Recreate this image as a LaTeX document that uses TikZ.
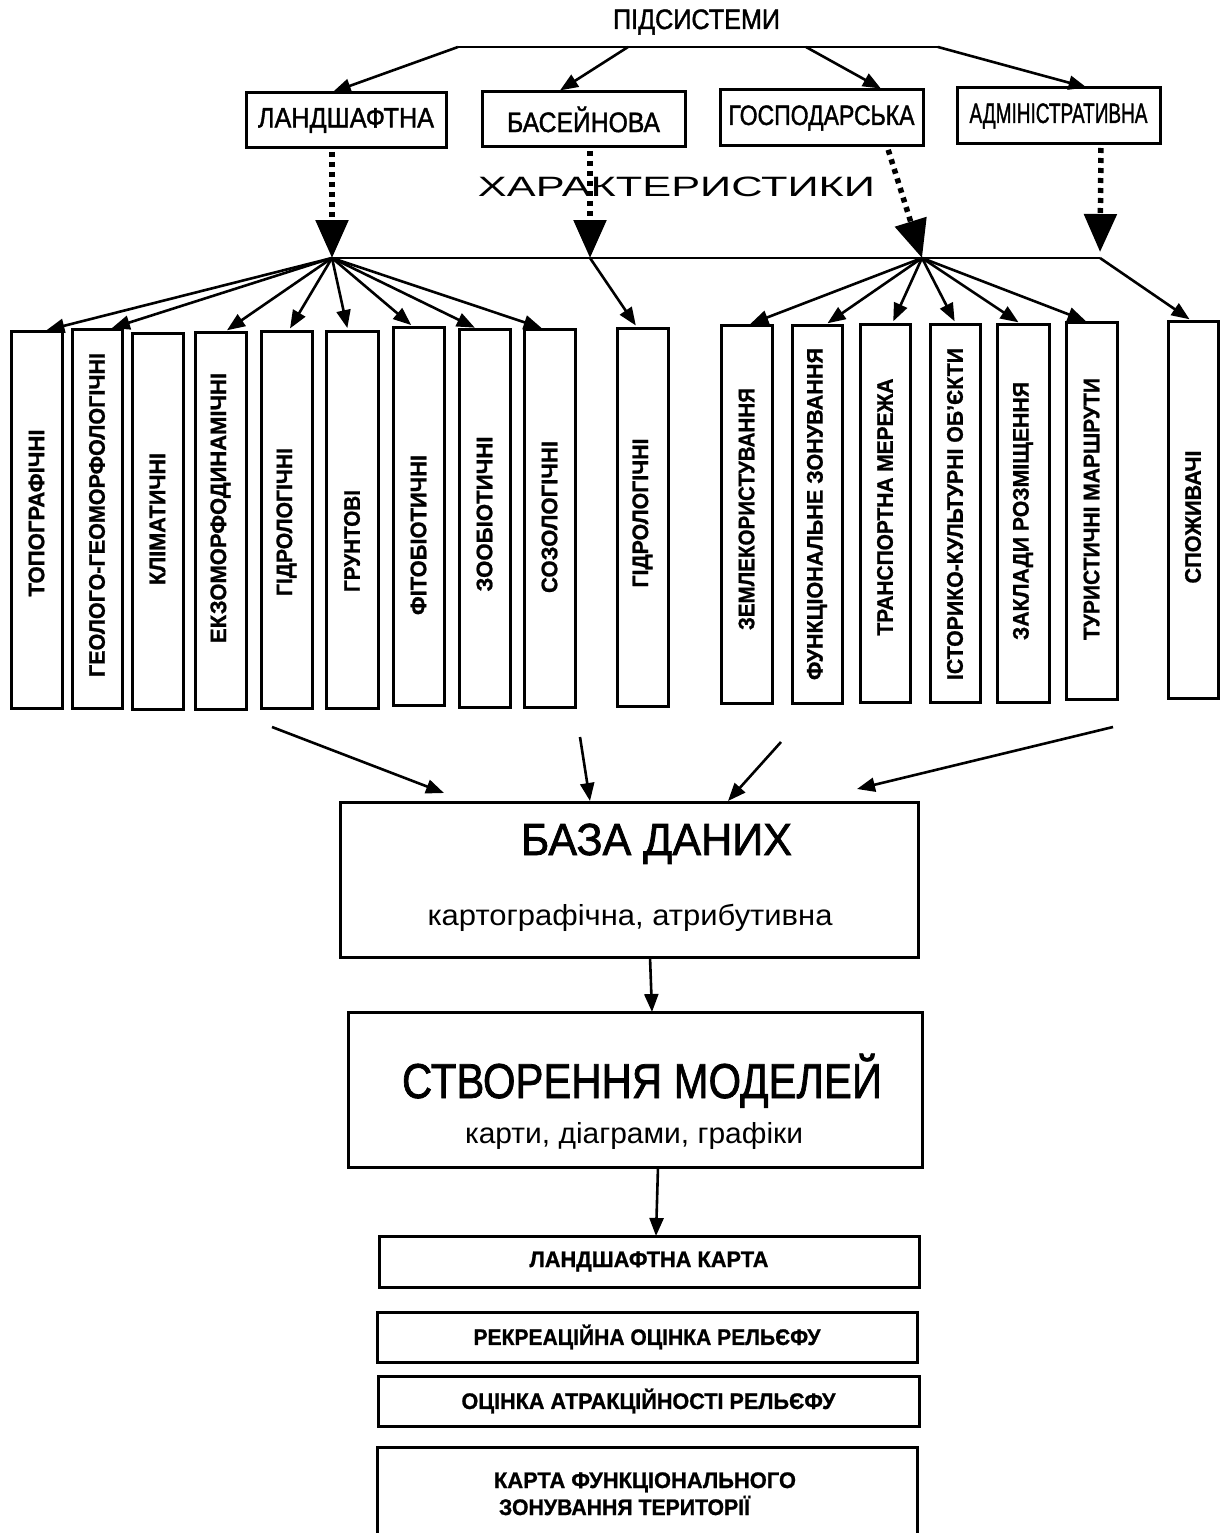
\documentclass[tikz,border=0pt]{standalone}
\usepackage{fontspec}
\setmainfont{Liberation Sans}
\newfontfamily\medf{Liberation Sans}[FakeBold=1.6]
\newfontfamily\heavyf{Liberation Sans}[BoldFeatures={FakeBold=1.0}]
\usepackage{graphicx}
\usetikzlibrary{arrows.meta,calc}
\tikzset{
  box/.style={draw, line width=3pt, inner sep=0pt, outer sep=0pt},
  conn/.style={line width=2.6pt, -{Triangle[length=18pt,width=14pt]}},
  dotarr/.style={line width=5.5pt, dash pattern=on 5pt off 5pt, -{Triangle[length=38pt,width=32pt]}},
  lbl/.style={inner sep=0pt, outer sep=0pt},
  upfont/.style={font=\fontsize{28}{30}\medf},
  bfont/.style={font=\fontsize{22.5}{24}\heavyf\bfseries},
}
\newcommand\fitw[2]{\resizebox{#1pt}{\height}{#2}}
\newcommand\vbx[8]{%
  \node[box, minimum width={(#3-#2)*1pt}, minimum height={(#5-#4)*1pt}] (#1) at ({(#2+#3)/2},{(#4+#5)/2}) {};
  \node[lbl, rotate=90, bfont] (#1t) at ({(#2+#3)/2},#6) {\fitw{#7}{#8}};
}
\begin{document}
\begin{tikzpicture}[x=1pt,y=-1pt]
\useasboundingbox[fill=white] (0,0) rectangle (1220,1533);

% title
\node[lbl, upfont] (sub) at (696.5,22) {\fitw{167}{ПІДСИСТЕМИ}};

% subsystem boxes
\node[box, upfont, minimum width=200pt, minimum height=55pt] (land) at (346,120.5) {\fitw{176}{ЛАНДШАФТНА}};
\node[box, upfont, minimum width=203pt, minimum height=55pt] (bas) at (583.5,119.5) {\fitw{153}{БАСЕЙНОВА}};
\node[box, upfont, minimum width=203pt, minimum height=56pt] (gosp) at (821.5,118) {\fitw{186}{ГОСПОДАРСЬКА}};
\node[box, upfont, minimum width=203pt, minimum height=56pt] (adm) at (1058.5,116) {\fitw{178}{АДМІНІСТРАТИВНА}};

\coordinate (t1) at (458,47);
\coordinate (t2) at (628,47);
\coordinate (t3) at (806,47);
\coordinate (t4) at (938,47);
\draw[line width=2.6pt] (t1) -- (t4);
\draw[conn, shorten >=3pt] (t1) -- ([xshift=-16pt]land.north);
\draw[conn, shorten >=3pt] (t2) -- ([xshift=-26pt]bas.north);
\draw[conn, shorten >=3pt] (t3) -- ([xshift=62pt]gosp.north);
\draw[conn, shorten >=2pt] (t4) -- ([xshift=30pt]adm.north);

% characteristics label
\node[lbl, font=\fontsize{28}{30}\selectfont] (char) at (676.5,187) {\fitw{397}{ХАРАКТЕРИСТИКИ}};

% hubs
\coordinate (hL) at (332,258);
\coordinate (hB) at (590,258);
\coordinate (hG) at (922,258);
\coordinate (hA) at (1100,258);
\draw[line width=2.5pt] (hL) -- (hA);

\draw[dotarr, shorten <=4pt] ([xshift=-14pt]land.south) -- (hL);
\draw[dotarr, shorten <=4pt] ([xshift=6.5pt]bas.south) -- (hB);
\draw[dotarr, shorten <=4pt] ([xshift=65.5pt]gosp.south) -- (hG);
\draw[dotarr, shorten <=4pt, shorten >=6pt] ([xshift=42.5pt]adm.south) -- (hA);

% vertical boxes, landscape group
\vbx{topo}{11}{62}{331}{708}{513}{167}{ТОПОГРАФІЧНІ}
\vbx{geol}{72}{122}{329}{708}{515}{324}{ГЕОЛОГО-ГЕОМОРФОЛОГІЧНІ}
\vbx{klim}{132}{183}{333}{709}{519}{132}{КЛІМАТИЧНІ}
\vbx{ekzo}{195}{246}{332}{709}{508}{270}{ЕКЗОМОРФОДИНАМІЧНІ}
\vbx{hidr}{261}{312}{331}{708}{522}{148}{ГІДРОЛОГІЧНІ}
\vbx{grun}{326}{378}{331}{708}{541}{102}{ГРУНТОВІ}
\vbx{fito}{393}{444}{327}{705}{535}{160}{ФІТОБІОТИЧНІ}
\vbx{zoo}{459}{510}{329}{707}{514}{155}{ЗООБІОТИЧНІ}
\vbx{soz}{524}{575}{329}{707}{517}{152}{СОЗОЛОГІЧНІ}
% basin
\vbx{hidb}{617}{668}{328}{706}{513}{149}{ГІДРОЛОГІЧНІ}
% economic
\vbx{zeml}{721}{772}{325}{703}{509}{242}{ЗЕМЛЕКОРИСТУВАННЯ}
\vbx{funk}{792}{842}{325}{703}{514}{332}{ФУНКЦІОНАЛЬНЕ ЗОНУВАННЯ}
\vbx{tran}{860}{910}{324}{702}{507}{257}{ТРАНСПОРТНА МЕРЕЖА}
\vbx{isto}{930}{980}{324}{702}{514}{332}{ІСТОРИКО-КУЛЬТУРНІ ОБ’ЄКТИ}
\vbx{zakl}{997}{1049}{324}{702}{511}{258}{ЗАКЛАДИ РОЗМІЩЕННЯ}
\vbx{turi}{1066}{1117}{322}{699}{509}{262}{ТУРИСТИЧНІ МАРШРУТИ}
% administrative
\vbx{spoz}{1168}{1218}{321}{698}{517}{133}{СПОЖИВАЧІ}

% fans
\foreach \n/\d in {topo/7, geol/12, ekzo/4, hidr/2, grun/-4, fito/-5, zoo/-7, soz/-5}
  \draw[conn, shorten >=3pt] (hL) -- ([xshift=\d pt]\n.north);
\foreach \n/\d in {zeml/1, funk/8, tran/7, isto/1, zakl/-2, turi/-3}
  \draw[conn, shorten >=3pt] (hG) -- ([xshift=\d pt]\n.north);
\draw[conn, shorten >=3pt] (hB) -- ([xshift=-5pt]hidb.north);
\draw[conn, shorten >=3pt] (hA) -- ([xshift=-1pt]spoz.north);

% database
\node[box, minimum width=578pt, minimum height=155pt] (base) at (629,879.5) {};
\node[lbl, anchor=base, font=\fontsize{45}{48}\medf] (baseT) at (656.5,855) {\fitw{271}{БАЗА ДАНИХ}};
\node[lbl, anchor=base, font=\fontsize{29}{32}\selectfont] (baseS) at (630,925) {\fitw{405}{картографічна, атрибутивна}};

\coordinate (c1) at (272,727);
\coordinate (c2) at (580,737);
\coordinate (c3) at (781,742);
\coordinate (c4) at (1113,727);
\draw[conn] (c1) -- ([xshift=-185pt,yshift=9pt]base.north);
\draw[conn] (c2) -- ([xshift=-39pt,yshift=1pt]base.north);
\draw[conn] (c3) -- ([xshift=99pt,yshift=1pt]base.north);
\draw[conn] (c4) -- ([xshift=228pt,yshift=13pt]base.north);

% models
\node[box, minimum width=574pt, minimum height=155pt] (model) at (635,1089.5) {};
\node[lbl, anchor=base, font=\fontsize{49}{52}\medf] (modT) at (642,1098) {\fitw{480}{СТВОРЕННЯ МОДЕЛЕЙ}};
\node[lbl, anchor=base, font=\fontsize{29}{32}\selectfont] (modS) at (634,1143) {\fitw{338}{карти, діаграми, графіки}};
\draw[conn] ([xshift=21pt]base.south) -- ([xshift=17pt]model.north);

% outputs
\node[box, bfont, minimum width=540pt, minimum height=51pt] (lk) at (649,1261.5) {\fitw{239}{ЛАНДШАФТНА КАРТА}};
\node[box, bfont, minimum width=540pt, minimum height=50pt] (ro) at (647,1337) {\fitw{347}{РЕКРЕАЦІЙНА ОЦІНКА РЕЛЬЄФУ}};
\node[box, bfont, minimum width=541pt, minimum height=50pt] (oa) at (648.5,1401) {\fitw{374}{ОЦІНКА АТРАКЦІЙНОСТІ РЕЛЬЄФУ}};
\node[lbl, minimum width=540pt, minimum height=86pt] (kf) at (647,1490) {};
\draw[line width=3pt] (kf.south west) -- (kf.north west) -- (kf.north east) -- (kf.south east);
\node[lbl, bfont, anchor=base west] (kf1) at (494,1488) {\fitw{302}{КАРТА ФУНКЦІОНАЛЬНОГО}};
\node[lbl, bfont, anchor=base west] (kf2) at (499,1515) {\fitw{251}{ЗОНУВАННЯ ТЕРИТОРІЇ}};
\draw[conn] ([xshift=23pt]model.south) -- ([xshift=7pt]lk.north);
\end{tikzpicture}
\end{document}
